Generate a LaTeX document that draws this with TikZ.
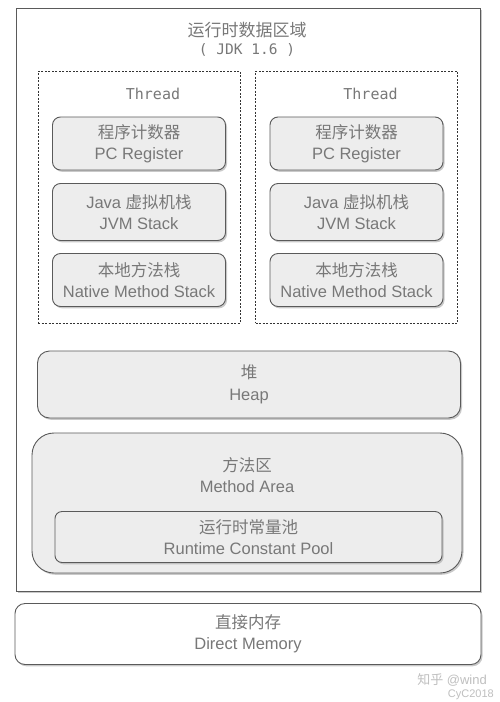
\documentclass[tikz,border=0pt]{standalone}
\usepackage{fontspec}
\setmainfont{Liberation Sans}
\newfontfamily\cjk{Noto Sans CJK SC}
\newfontfamily\monof{DejaVu Sans Mono}
\usetikzlibrary{shadows}
\definecolor{txtgray}{HTML}{787878}
\definecolor{boxfill}{HTML}{EDEDED}
\definecolor{edge}{HTML}{5A5A5A}
\tikzset{
  shad/.style={drop shadow={shadow xshift=1.5pt,shadow yshift=-1.8pt,fill=black!35,opacity=0.6}},
  membox/.style={draw=edge,line width=0.9pt,fill=boxfill,rounded corners=8pt,shad,
    inner sep=0pt,align=center,text=txtgray,font=\fontsize{16.5}{21.5}\selectfont},
  threadbox/.style={draw=black!80,line width=0.8pt,dash pattern=on 2pt off 1.5pt,inner sep=0pt},
  lbl/.style={text=txtgray,align=center,inner sep=0pt,font=\fontsize{16.5}{21.5}\selectfont},
}
\begin{document}
\begin{tikzpicture}[x=1pt,y=-1pt]
\useasboundingbox[fill=white] (0,0) rectangle (500,702);
% outer runtime data area
\node[draw=edge,line width=0.9pt,fill=white,shad,minimum width=464pt,minimum height=583pt,inner sep=0pt] (rda) at (248,299.5) {};
\node[lbl,font=\fontsize{17}{20}\selectfont] (title) at (247,30) {\cjk 运行时数据区域};
\node[lbl,font=\monof\fontsize{14.5}{18}\selectfont] (jdk) at (247,50) {( JDK 1.6 )};
% threads
\foreach \n/\cx in {L/139,R/356.5}{
  \node[threadbox,minimum width=202pt,minimum height=252pt] (thr\n) at (\cx,197) {};
  \node[lbl,font=\monof\fontsize{15}{17}\selectfont] (tt\n) at (\cx+14,94) {Thread};
  \node[membox,minimum width=173pt,minimum height=53pt] (pc\n) at (\cx,143.5) {{\cjk 程序计数器}\\PC Register};
  \node[membox,minimum width=173pt,minimum height=57pt] (jvm\n) at (\cx,212) {Java {\cjk 虚拟机栈}\\JVM Stack};
  \node[membox,minimum width=173pt,minimum height=53pt] (nat\n) at (\cx,280) {{\cjk 本地方法栈}\\Native Method Stack};
}
% heap
\node[membox,rounded corners=12pt,minimum width=423pt,minimum height=67pt] (heap) at (249,384.5) {{\cjk 堆}\\Heap};
% method area
\node[membox,rounded corners=22pt,minimum width=430pt,minimum height=140pt] (ma) at (247,503) {};
\node[lbl] (matxt) at (247,475) {{\cjk 方法区}\\Method Area};
\node[membox,rounded corners=7pt,minimum width=387pt,minimum height=51pt] (rcp) at (248.5,537) {{\cjk 运行时常量池}\\Runtime Constant Pool};
% direct memory
\node[membox,fill=white,rounded corners=10pt,minimum width=466pt,minimum height=61pt] (dm) at (248,634) {{\cjk 直接内存}\\Direct Memory};
% watermark
\node[text=black!25,inner sep=0pt,font=\fontsize{13}{15}\selectfont,anchor=east] (wm1) at (487,680) {{\cjk 知乎} @wind};
\node[text=black!25,inner sep=0pt,font=\fontsize{11}{13}\selectfont,anchor=east] (wm2) at (494,695) {CyC2018};
\end{tikzpicture}
\end{document}
